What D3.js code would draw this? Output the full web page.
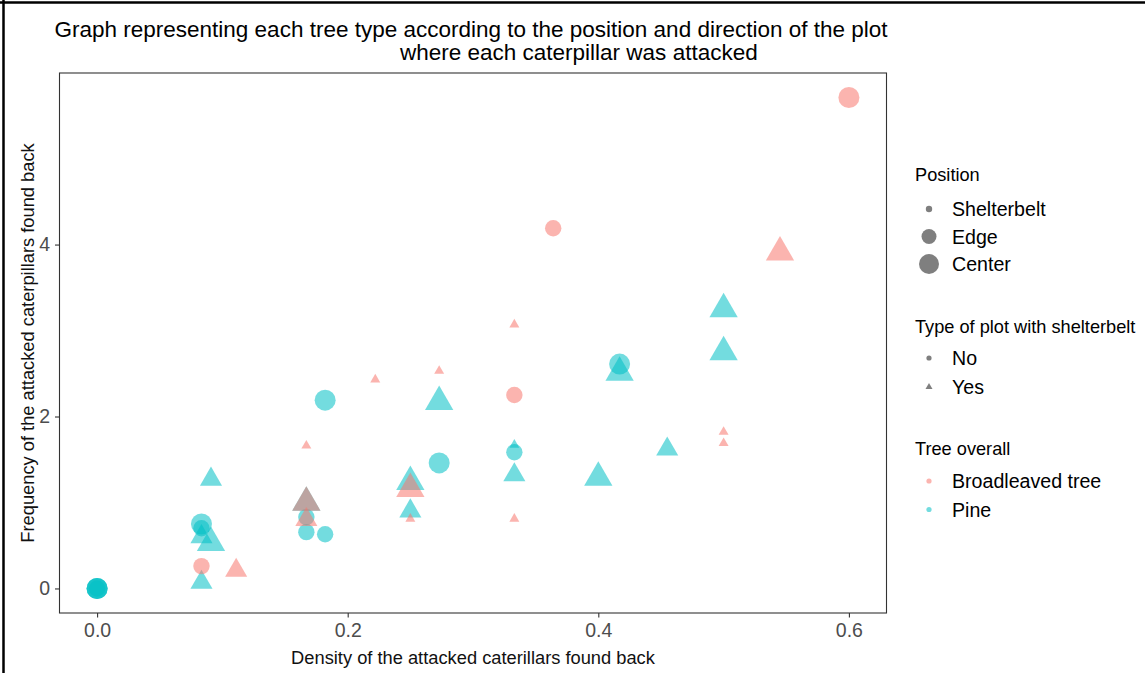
<!DOCTYPE html>
<html>
<head>
<meta charset="utf-8">
<script src="https://cdn.jsdelivr.net/npm/d3@7"></script>
<style>
  html, body { margin: 0; padding: 0; background: #fff; }
  svg { display: block; font-family: "Liberation Sans", Arial, sans-serif; }
</style>
</head>
<body>
<svg id="chart" width="1145" height="673"></svg>
<script>
// Attacked caterpillars: density vs frequency, one record per plot position
const density = [
  0.5, 0.5, 0.417, 0.417, 0.273, 0.182, 0.455, 0.333, 0.333, 0.273,
  0.333, 0.4, 0.0909, 0.25, 0.167, 0.25, 0.167, 0.167, 0.182,
  0.0833, 0.0833, 0.0833, 0.0909, 0.0833, 0, 0, 0, 0,
  0.6, 0.364, 0.545, 0.333, 0.273, 0.222, 0.333, 0.5, 0.5, 0.167,
  0.25, 0.167, 0.167, 0.25, 0.333, 0.0833, 0.111
];
const frequency = [
  3.25, 2.75, 2.61, 2.51, 2.17, 2.19, 1.62, 1.67, 1.585, 1.46,
  1.32, 1.29, 1.27, 1.24, 1.0, 0.90, 0.83, 0.655, 0.63,
  0.75, 0.70, 0.60, 0.53, 0.07, 0, 0, 0, 0,
  5.71, 4.19, 3.91, 3.07, 2.53, 2.43, 2.25, 1.82, 1.69, 1.66,
  1.16, 1.0, 0.80, 0.81, 0.81, 0.26, 0.21
];
const position = [
  "Center", "Center", "Center", "Center", "Center", "Center", "Edge", "Shelterbelt", "Edge", "Center",
  "Edge", "Center", "Edge", "Center", "Center", "Edge", "Edge", "Edge", "Edge",
  "Center", "Edge", "Edge", "Center", "Edge", "Center", "Center", "Center", "Edge",
  "Center", "Edge", "Center", "Shelterbelt", "Shelterbelt", "Shelterbelt", "Edge", "Shelterbelt", "Shelterbelt", "Shelterbelt",
  "Center", "Center", "Edge", "Shelterbelt", "Shelterbelt", "Edge", "Edge"
];
const shelterPlot = [
  "Yes", "Yes", "No", "Yes", "Yes", "No", "Yes", "Yes", "No", "No",
  "Yes", "Yes", "Yes", "Yes", "Yes", "Yes", "No", "No", "No",
  "No", "No", "Yes", "Yes", "Yes", "No", "No", "No", "No",
  "No", "No", "Yes", "Yes", "Yes", "Yes", "No", "Yes", "Yes", "Yes",
  "Yes", "Yes", "Yes", "Yes", "Yes", "No", "Yes"
];
const tree = [
  "Pine", "Pine", "Pine", "Pine", "Pine", "Pine", "Pine", "Pine", "Pine", "Pine",
  "Pine", "Pine", "Pine", "Pine", "Pine", "Pine", "Pine", "Pine", "Pine",
  "Pine", "Pine", "Pine", "Pine", "Pine", "Pine", "Pine", "Pine", "Pine",
  "Broadleaved tree", "Broadleaved tree", "Broadleaved tree", "Broadleaved tree", "Broadleaved tree",
  "Broadleaved tree", "Broadleaved tree", "Broadleaved tree", "Broadleaved tree", "Broadleaved tree",
  "Broadleaved tree", "Broadleaved tree", "Broadleaved tree", "Broadleaved tree", "Broadleaved tree",
  "Broadleaved tree", "Broadleaved tree"
];

const xTicks = [0, 0.2, 0.4, 0.6];
const yTicks = [0, 2, 4];
const positionLevels = ["Shelterbelt", "Edge", "Center"];
const plotLevels = ["No", "Yes"];
const treeLevels = ["Broadleaved tree", "Pine"];

const records = density.map((d, i) => ({
  x: d, y: frequency[i], pos: position[i], plot: shelterPlot[i], tree: tree[i]
}));

const svg = d3.select("#chart");
const panel = { left: 59.5, right: 886.5, top: 73, bottom: 613 };
const alpha = 0.55;

// ggplot-style 5% expansion of the data range
function expanded(values) {
  const [lo, hi] = d3.extent(values);
  const pad = (hi - lo) * 0.05;
  return [lo - pad, hi + pad];
}
const x = d3.scaleLinear().domain(expanded(density)).range([panel.left, panel.right]);
const y = d3.scaleLinear().domain(expanded(frequency)).range([panel.bottom, panel.top]);

const color = d3.scaleOrdinal().domain(treeLevels).range(["#F8766D", "#00BFC4"]);
const radius = d3.scaleOrdinal().domain(positionLevels).range([3.7, 8.2, 10.5]);

// circle for plots without shelterbelt, triangle for plots with one
function markPath(plot, r) {
  if (plot === "No") return d3.symbol(d3.symbolCircle, Math.PI * r * r)();
  const side = 2.694 * r;
  return d3.symbol(d3.symbolTriangle, Math.sqrt(3) / 4 * side * side)();
}

// outer frame lines
svg.append("line").attr("x1", 0).attr("x2", 1145).attr("y1", 2.5).attr("y2", 2.5)
  .attr("stroke", "#000").attr("stroke-width", 2.5);
svg.append("line").attr("x1", 3.5).attr("x2", 3.5).attr("y1", 0).attr("y2", 673)
  .attr("stroke", "#000").attr("stroke-width", 2.5);

// points
svg.append("g").selectAll("path").data(records).join("path")
  .attr("transform", d => `translate(${x(d.x)},${y(d.y)})`)
  .attr("d", d => markPath(d.plot, radius(d.pos)))
  .attr("fill", d => color(d.tree))
  .attr("fill-opacity", alpha);

// panel border
svg.append("rect")
  .attr("x", panel.left).attr("y", panel.top)
  .attr("width", panel.right - panel.left).attr("height", panel.bottom - panel.top)
  .attr("fill", "none").attr("stroke", "#333").attr("stroke-width", 1.1);

// axes
const xAxis = svg.append("g").attr("transform", `translate(0,${panel.bottom})`)
  .call(d3.axisBottom(x).tickValues(xTicks).tickFormat(d3.format(".1f")).tickSize(4.5).tickPadding(6));
const yAxis = svg.append("g").attr("transform", `translate(${panel.left},0)`)
  .call(d3.axisLeft(y).tickValues(yTicks).tickFormat(d3.format("d")).tickSize(4.5).tickPadding(5));
[xAxis, yAxis].forEach(a => {
  a.select(".domain").remove();
  a.selectAll(".tick line").attr("stroke", "#333").attr("stroke-width", 1.1);
  a.selectAll(".tick text").attr("fill", "#4D4D4D")
    .style("font-size", "19.5px").style("font-family", "'Liberation Sans', Arial, sans-serif");
});

// axis titles
svg.append("text").attr("x", (panel.left + panel.right) / 2).attr("y", 664)
  .attr("text-anchor", "middle").style("font-size", "18.3px").attr("fill", "#111")
  .text("Density of the attacked caterillars found back");
svg.append("text").attr("transform", `translate(34,${(panel.top + panel.bottom) / 2}) rotate(-90)`)
  .attr("text-anchor", "middle").style("font-size", "18.3px").attr("fill", "#111")
  .text("Frequency of the attacked caterpillars found back");

// title
svg.append("text").attr("x", 471).attr("y", 37).attr("text-anchor", "middle")
  .style("font-size", "22.5px").attr("fill", "#000")
  .text("Graph representing each tree type according to the position and direction of the plot");
svg.append("text").attr("x", 400).attr("y", 60).attr("text-anchor", "start")
  .style("font-size", "22.5px").attr("fill", "#000")
  .text("where each caterpillar was attacked");

// legends
const legend = svg.append("g");
const keyX = 929, labelX = 952, titleX = 915;

function legendTitle(text, yPos) {
  legend.append("text").attr("x", titleX).attr("y", yPos)
    .style("font-size", "18.2px").attr("fill", "#000").text(text);
}
function legendLabel(text, yPos) {
  legend.append("text").attr("x", labelX).attr("y", yPos).attr("dy", "0.36em")
    .style("font-size", "19.6px").attr("fill", "#000").text(text);
}

legendTitle("Position", 181);
positionLevels.forEach((p, i) => {
  const cy = [209, 236.5, 264][i];
  legend.append("path").attr("transform", `translate(${keyX},${cy})`)
    .attr("d", markPath("No", [3.2, 7.5, 10][i]))
    .attr("fill", "#000").attr("fill-opacity", 0.5);
  legendLabel(p, cy);
});

legendTitle("Type of plot with shelterbelt", 333);
plotLevels.forEach((p, i) => {
  const cy = [358, 387][i];
  legend.append("path").attr("transform", `translate(${keyX},${cy})`)
    .attr("d", markPath(p, 2.6))
    .attr("fill", "#000").attr("fill-opacity", 0.5);
  legendLabel(p, cy);
});

legendTitle("Tree overall", 455);
treeLevels.forEach((t, i) => {
  const cy = [481, 509.5][i];
  legend.append("path").attr("transform", `translate(${keyX},${cy})`)
    .attr("d", markPath("No", 2.6))
    .attr("fill", color(t)).attr("fill-opacity", alpha);
  legendLabel(t, cy);
});
</script>
</body>
</html>
